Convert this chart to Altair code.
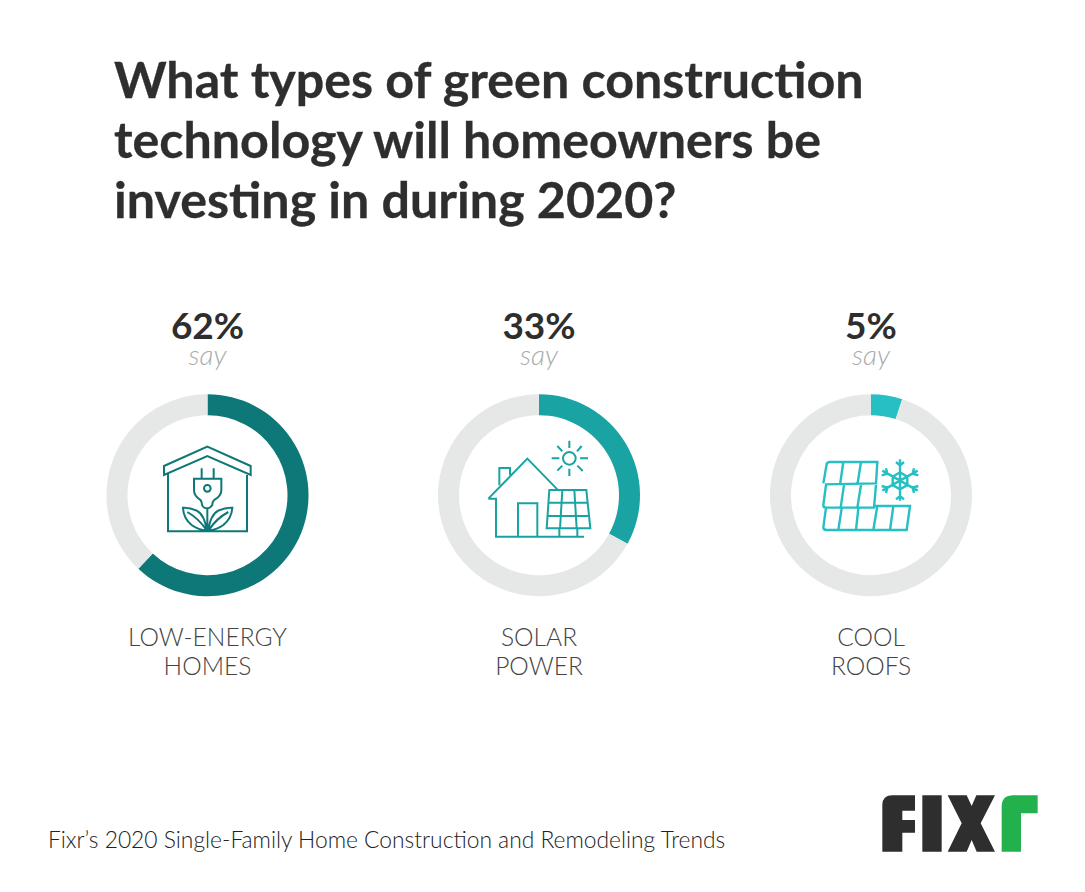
import altair as alt
import pandas as pd

W, H = 1069, 876
OFF = 8

title_lines = ["What types of green construction",
               "technology will homeowners be",
               "investing in during 2020?"]
categories = ["LOW-ENERGY HOMES", "SOLAR POWER", "COOL ROOFS"]
label_lines = [["LOW-ENERGY", "HOMES"], ["SOLAR", "POWER"], ["COOL", "ROOFS"]]
values = [62, 33, 5]
colors = ["#0d7877", "#1aa3a3", "#26bfc4"]
track = "#e6e8e7"
source = "Fixr\u2019s 2020 Single-Family Home Construction and Remodeling Trends"
centers = [207.5, 539.0, 871.0]
cy = 495.2


def circle(cx, cy_, r):
    k = 0.5523 * r
    return (f"M{cx - r} {cy_} C{cx - r} {cy_ - k} {cx - k} {cy_ - r} {cx} {cy_ - r} "
            f"C{cx + k} {cy_ - r} {cx + r} {cy_ - k} {cx + r} {cy_} "
            f"C{cx + r} {cy_ + k} {cx + k} {cy_ + r} {cx} {cy_ + r} "
            f"C{cx - k} {cy_ + r} {cx - r} {cy_ + k} {cx - r} {cy_} Z ")


icon_home = (
    "M192 255 L192 228 L322 170 L452 228 L452 255 L322 198 Z "
    "M204 250 L204 424 L441 424 L441 250 "
    "M305 235 L305 266 M341 235 L341 266 "
    "M282 266 L364 266 L364 300 Q364 315 350 325 Q336 332 337 345 Q330 355 322 355 "
    "Q310 355 306 345 Q306 330 295 325 Q282 315 282 300 Z "
    + circle(322, 295, 10) +
    "M322 355 L322 424 "
    "M320 424 Q315 375 290 362 Q270 352 249 353 Q250 385 275 405 Q295 420 320 421 "
    "M262 366 Q295 385 318 418 "
    "M325 424 Q330 375 355 362 Q375 352 397 353 Q395 385 370 405 Q350 420 325 421 "
    "M385 366 Q350 385 328 418"
)
icon_solar = (
    "M55 236 L172 116 L262 208 "
    "M88 196 L88 144 L120 144 L120 165 "
    "M55 236 L78 236 L78 350 L342 350 "
    "M144 350 L144 250 L202 250 L202 350 "
    "M238 210 L349 210 L361 325 L230 325 Z "
    "M235 248 L353 248 M232 288 L357 288 "
    "M277 210 L270 325 M313 210 L320 325 "
    "M268 325 L268 350 M322 325 L322 350 "
    + circle(298, 115, 19) +
    "M298 62 L298 84 M298 146 L298 168 M245 115 L268 115 M330 115 L354 115 "
    "M262 78 L277 94 M335 78 L321 94 M262 152 L277 137 M338 153 L322 137"
)
icon_roof = (
    "M70 130 L80 72 Q82 66 90 66 L232 66 L228 130 L75 133 "
    "M130 66 L120 135 M183 66 L172 135 "
    "M78 135 L70 195 Q70 203 78 203 L222 203 L228 135 "
    "M132 135 L122 203 M183 135 L172 203 "
    "M222 198 L330 198 L320 270 L80 270 Q70 270 70 262 L78 203 "
    "M125 205 L115 270 M175 205 L168 270 M232 198 L220 270 M280 198 L270 270 "
    "M300 58 L300 182 M247 92 L353 152 M247 152 L353 92 "
    "M300 97 L322 110 L322 135 L300 148 L278 135 L278 110 Z "
    "M288 66 L300 76 L312 66 M288 178 L300 168 L312 178 "
    "M245 106 L262 101 L258 85 M355 106 L338 101 L342 85 "
    "M245 138 L262 143 L258 159 M355 138 L338 143 L342 159"
)
logo_dark = (
    "M67 215 L67 75 Q67 46 97 46 L165 46 L165 92 L127 92 L127 120 L165 120 L165 158 L127 158 L127 215 Z "
    "M187 46 L245 46 L245 215 L187 215 Z "
    "M263 46 L320 46 L335 78 L349 46 L405 46 L362 130 L405 215 L350 215 L335 180 L320 215 L263 215 L305 130 Z"
)
logo_green = "M425 215 L425 80 Q425 46 460 46 L533 46 L533 100 L483 100 L483 215 Z"

one = pd.DataFrame({"row": [0]})
ZOOM = 4 / 9  # path units are 1/3 px


def px(x):
    return alt.value(x - OFF)


def py(y):
    return alt.value(y - OFF)


def text(t, x, y, size, color, weight="normal", align="center", style="normal", **extra):
    return alt.Chart(one).mark_text(
        font="Lato", fontSize=size, fontWeight=weight, fontStyle=style,
        color=color, align=align, baseline="alphabetic", **extra,
    ).encode(x=px(x), y=py(y), text=alt.value(t))


def shape(path, x, y, stroke=None, fill=None, width=2.0):
    kw = {"strokeWidth": width, "stroke": stroke} if stroke else {"strokeWidth": 0}
    if fill:
        kw["fill"] = fill
    return alt.Chart(one).mark_point(
        shape=path, size=ZOOM, opacity=1, filled=bool(fill), **kw
    ).encode(x=px(x), y=py(y))


layers = []
for t, y in zip(title_lines, [98, 158, 218]):
    layers.append(text(t, 114, y, 50.2, "#2e2e2e", weight="bold", align="left",
                       stroke="#2e2e2e", strokeWidth=0.3))

color_scale = alt.Scale(domain=categories + ["rest"], range=colors + [track])
for cat, val, cx, lines in zip(categories, values, centers, label_lines):
    df = pd.DataFrame({"part": [cat, "rest"], "value": [val, 100 - val], "i": [0, 1]})
    layers.append(
        alt.Chart(df).mark_arc(radius=101, radius2=80).encode(
            theta=alt.Theta("value:Q", stack=True, scale=alt.Scale(domain=[0, 100]), title=None),
            color=alt.Color("part:N", scale=color_scale, legend=None),
            order=alt.Order("i:Q"),
            x=px(cx),
            y=py(cy),
        )
    )
    layers.append(text(f"{val}%", cx, 339, 37, "#2e2e2e", weight="bold"))
    layers.append(text("say", cx, 365, 28, "#a9adad", weight=300, style="italic"))
    layers.append(text(lines[0], cx, 646, 24.6, "#444444", weight=300))
    layers.append(text(lines[1], cx, 675, 24.6, "#444444", weight=300))

layers.append(shape(icon_home, 100, 390, stroke=colors[0]))
layers.append(shape(icon_solar, 470, 420, stroke=colors[1]))
layers.append(shape(icon_roof, 800, 440, stroke=colors[2], width=2.4))
layers.append(shape(logo_dark, 860, 780, fill="#2e2e2e"))
layers.append(shape(logo_green, 860, 780, fill="#23b14d"))
layers.append(text(source, 48, 848, 22.8, "#222222", weight=300, align="left"))

chart = alt.layer(*layers).properties(
    width=W, height=H, padding=0, autosize="none", background="white"
).configure_view(stroke=None)

chart.save("out.html", embed_options={"renderer": "svg", "actions": False})
